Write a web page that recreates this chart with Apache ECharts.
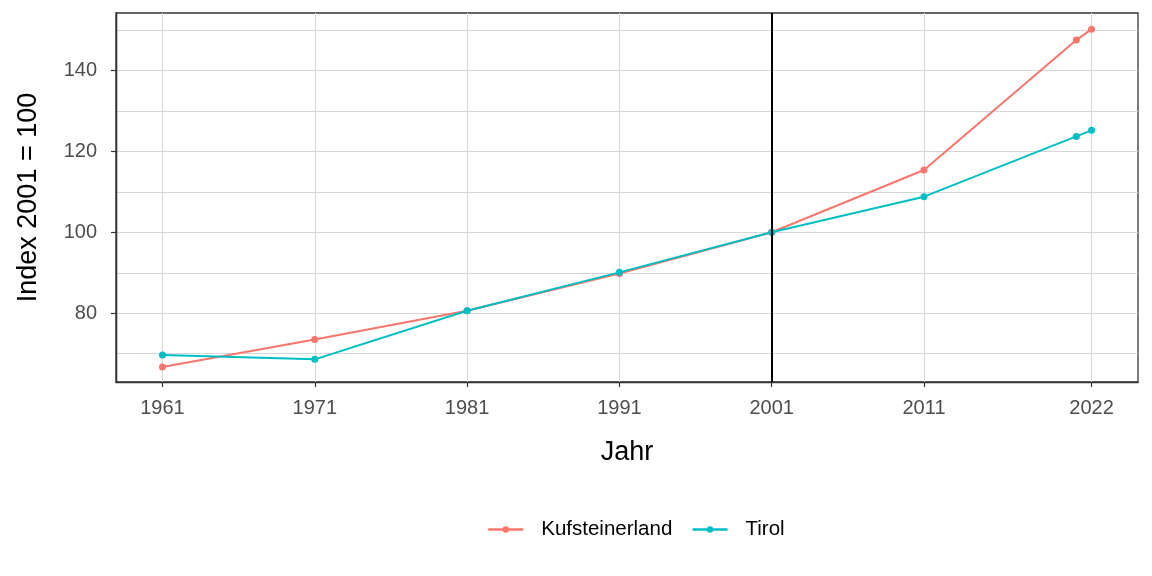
<!DOCTYPE html>
<html>
<head>
<meta charset="utf-8">
<script src="https://cdn.jsdelivr.net/npm/echarts@6/dist/echarts.min.js"></script>
<style>
html,body{margin:0;padding:0;background:#fff;}
#chart{width:1152px;height:576px;}
</style>
</head>
<body>
<div id="chart"></div>
<script>
const years = [1961, 1971, 1981, 1991, 2001, 2011, 2021, 2022];
const kufsteinerland = [66.7, 73.5, 80.6, 89.8, 100, 115.4, 147.5, 150.2];
const tirol = [69.7, 68.6, 80.6, 90.1, 100, 108.8, 123.7, 125.2];
const xTickLabels = [1961, 1971, 1981, 1991, 2001, 2011, 2022];
const yTickLabels = [80, 100, 120, 140];
const yGridValues = [70, 80, 90, 100, 110, 120, 130, 140, 150];
const referenceYear = 2001;

const pair = (xs, ys) => xs.map((x, i) => [x, ys[i]]);
const FONT = 'Liberation Sans, Arial, sans-serif';

const chart = echarts.init(document.getElementById('chart'), null, {renderer: 'canvas'});
chart.setOption({
  animation: false,
  backgroundColor: '#ffffff',
  grid: {left: 116, right: 14, top: 13, bottom: 194, show: true, borderColor: '#333333', borderWidth: 1.3, backgroundColor: 'transparent'},
  legend: {
    top: 514, left: 482,
    itemWidth: 35, itemHeight: 8, itemGap: 19,
    lineStyle: {width: 2.5},
    textStyle: {fontFamily: FONT, fontSize: 20.5, color: '#000', padding: [0, 0, 0, 13]},
    data: ['Kufsteinerland', 'Tirol']
  },
  xAxis: {
    type: 'value', min: 1957.95, max: 2025.05,
    name: 'Jahr', nameLocation: 'middle', nameGap: 57,
    nameTextStyle: {fontFamily: FONT, fontSize: 27, color: '#000'},
    axisLine: {show: true, lineStyle: {color: '#333333', width: 1.3}},
    axisTick: {show: true, length: 5, customValues: xTickLabels, lineStyle: {color: '#333333', width: 1.2}},
    axisLabel: {customValues: xTickLabels, margin: 16, fontFamily: FONT, fontSize: 20, color: '#4D4D4D', formatter: v => String(v)},
    splitLine: {show: true, lineStyle: {color: '#d6d6d6', width: 1}}
  },
  yAxis: [{
    type: 'value', min: 63.0, max: 154.2,
    name: 'Index 2001 = 100', nameLocation: 'middle', nameGap: 74,
    nameTextStyle: {fontFamily: FONT, fontSize: 27, color: '#000'},
    axisLine: {show: true, lineStyle: {color: '#333333', width: 1.3}},
    axisTick: {show: false, customValues: yGridValues},
    axisLabel: {customValues: yTickLabels, margin: 19, fontFamily: FONT, fontSize: 20, color: '#4D4D4D'},
    splitLine: {show: true, lineStyle: {color: '#d6d6d6', width: 1}}
  }, {
    type: 'value', min: 63.0, max: 154.2, position: 'left', offset: 0,
    axisLine: {show: true, lineStyle: {color: '#333333', width: 1.3}},
    axisTick: {show: true, length: 5, customValues: yTickLabels, lineStyle: {color: '#333333', width: 1.2}},
    axisLabel: {show: false},
    splitLine: {show: false}
  }],
  series: [{
    name: 'Kufsteinerland', type: 'line', data: pair(years, kufsteinerland),
    color: '#F8766D', symbol: 'circle', symbolSize: 7, showSymbol: true,
    lineStyle: {width: 2}, z: 3,
    markLine: {
      silent: true, symbol: 'none', label: {show: false},
      lineStyle: {color: '#000', type: 'solid', width: 2},
      data: [{xAxis: referenceYear}]
    }
  }, {
    name: 'Tirol', type: 'line', data: pair(years, tirol),
    color: '#00BFC4', symbol: 'circle', symbolSize: 7, showSymbol: true,
    lineStyle: {width: 2}, z: 4
  }]
});
</script>
</body>
</html>
